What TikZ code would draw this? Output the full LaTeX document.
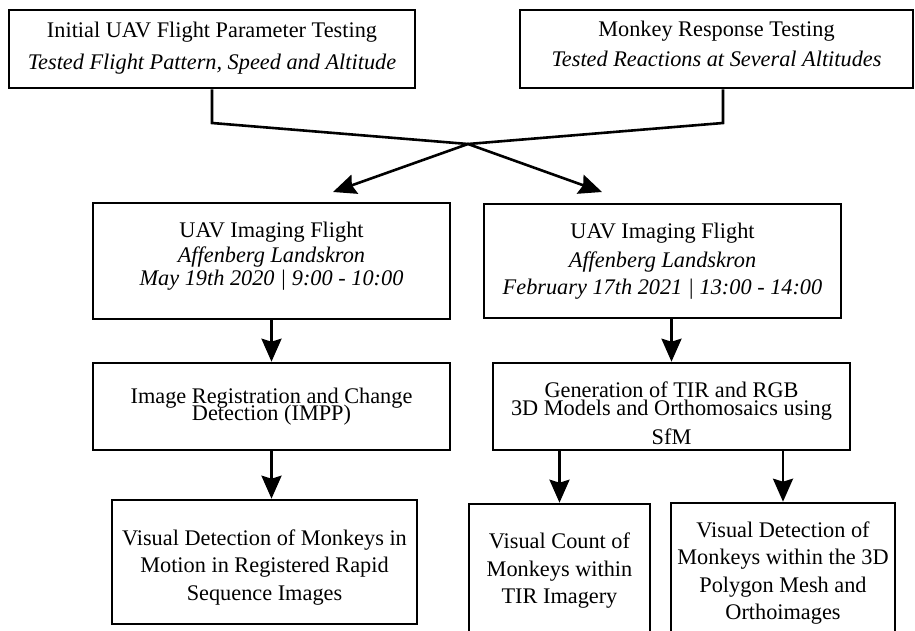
\documentclass[tikz,border=0pt]{standalone}
\usepackage{fontspec}
\setmainfont{Liberation Serif}
\usetikzlibrary{arrows.meta}
\newcommand{\liftby}[2]{\raisebox{#1}[\height][\depth]{\begin{tabular}{@{}c@{}}#2\end{tabular}}}
\tikzset{
  box/.style={draw, line width=2.6pt, align=center, inner sep=0pt,
    font=\fontsize{22.3}{27.5}\selectfont},
  arr/.style={line width=2.6pt, -{Stealth[length=23pt,width=20pt,inset=3pt]}},
  ln/.style={line width=2.6pt}
}
\begin{document}
\begin{tikzpicture}[x=1pt,y=-1pt]
\useasboundingbox (0,0) rectangle (915,631);
\clip (0,0) rectangle (915,631);
% top boxes
\node[box, minimum width=406pt, minimum height=78pt] (A) at (212,49)
  {\liftby{1pt}{Initial UAV Flight Parameter Testing\\[4pt]\textit{Tested Flight Pattern, Speed and Altitude}}};
\node[box, minimum width=393pt, minimum height=78pt] (B) at (716.5,49)
  {\liftby{3pt}{Monkey Response Testing\\[3pt]\textit{Tested Reactions at Several Altitudes}}};
% flights
\node[box, minimum width=357pt, minimum height=116pt] (C) at (271.5,261)
  {\liftby{5pt}{UAV Imaging Flight\\[-3pt]\textit{Affenberg Landskron}\\[-4pt]\textit{May 19th 2020 | 9:00 - 10:00}}};
\node[box, minimum width=357pt, minimum height=114pt] (D) at (662.5,261)
  {\liftby{0pt}{UAV Imaging Flight\\[1pt]\textit{Affenberg Landskron}\\[0pt]\textit{February 17th 2021 | 13:00 - 14:00}}};
% processing
\node[box, minimum width=357pt, minimum height=87pt] (E) at (271.5,406.5)
  {\liftby{0pt}{Image Registration and Change\\[-10pt]Detection (IMPP)}};
\node[box, minimum width=357pt, minimum height=87pt] (F) at (671.5,406.5)
  {\liftby{-9pt}{Generation of TIR and RGB\\[-9pt]3D Models and Orthomosaics using\\[1.5pt]SfM}};
% results
\node[box, minimum width=305pt, minimum height=124pt] (G) at (264.5,562)
  {\liftby{-5pt}{Visual Detection of Monkeys in\\Motion in Registered Rapid\\Sequence Images}};
\node[box, minimum width=181pt, minimum height=134pt] (H) at (559.5,571)
  {Visual Count of\\Monkeys within\\TIR Imagery};
\node[box, minimum width=224pt, minimum height=140pt] (I) at (783,573)
  {Visual Detection of\\Monkeys within the 3D\\Polygon Mesh and\\Orthoimages};
% crossing connectors
\coordinate (a1) at (212,123);
\coordinate (b1) at (723,123);
\coordinate (X) at (468,144);
\coordinate (tC) at (333,192);
\coordinate (tD) at (602,192);
\draw[arr, line join=miter] (A.south) -- (a1) -- (X) -- (tD);
\draw[arr, line join=miter] (B.south -| b1) -- (b1) -- (X) -- (tC);
% vertical connectors
\draw[arr] (C.south) -- (E.north);
\draw[arr] (D.south -| F.north) -- (F.north);
\draw[arr] (E.south) -- (E.south |- G.north);
\draw[arr] (F.south -| H.north) -- (H.north);
\draw[arr] (F.south -| I.north) -- (I.north);
\end{tikzpicture}
\end{document}
